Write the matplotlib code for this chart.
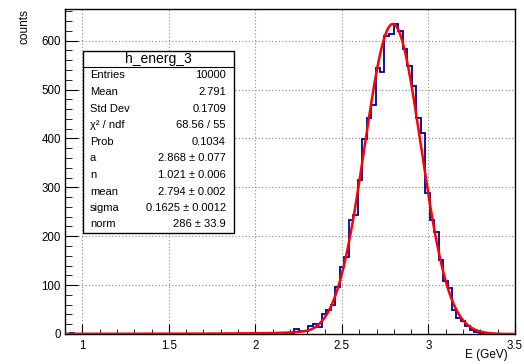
import numpy as np
import matplotlib
matplotlib.use("Agg")
import matplotlib.pyplot as plt
from matplotlib.patches import Rectangle

plt.rcParams['font.family'] = ['Liberation Sans', 'DejaVu Sans']

# histogram h_energ_3 : 100 bins from 0.9 to 3.5 GeV
x_lo, x_hi, n_bins = 0.9, 3.5, 100
counts = [0] * n_bins
tail_low = {1: 2, 42: 1, 43: 1, 46: 2, 47: 3, 48: 2, 49: 3, 50: 3}
peak_bins = [10, 7, 7, 16, 21, 15, 40, 50, 60, 96,            # 51-60
             138, 158, 234, 243, 314, 398, 441, 468, 543, 536,  # 61-70
             610, 613, 633, 619, 582, 549, 507, 442, 411, 289,  # 71-80
             234, 208, 151, 108, 94, 50, 33, 26, 17, 9,         # 81-90
             4, 2, 1]                                           # 91-93
for k, v in tail_low.items():
    counts[k] = v
for i, v in enumerate(peak_bins):
    counts[51 + i] = v

# fit parameters from the stat box (crystal ball), peak height
cb_a, cb_n, cb_mean, cb_sigma = 2.868, 1.021, 2.794, 0.1625
fit_peak = 634

stat_names = ["Entries", "Mean", "Std Dev", "χ² / ndf", "Prob",
              "a", "n", "mean", "sigma", "norm"]
stat_values = ["10000", "2.791", "0.1709", "68.56 / 55", "0.1034",
               "2.868 ± 0.077", "1.021 ± 0.006", "2.794 ± 0.002",
               "0.1625 ± 0.0012", "286 ± 33.9"]


def crystal_ball(x, a, n, mu, sig):
    t = (x - mu) / sig
    A = (n / abs(a)) ** n * np.exp(-a * a / 2)
    B = n / abs(a) - abs(a)
    out = np.exp(-t * t / 2)
    tail = t <= -a
    out[tail] = A * (B - t[tail]) ** (-n)
    return out


W, H = 524, 364
fig = plt.figure(figsize=(W / 100, H / 100), dpi=100)
ax = fig.add_axes([65 / W, 1 - 334 / H, 450 / W, 325 / H])

edges = np.linspace(x_lo, x_hi, n_bins + 1)
ax.stairs(counts, edges, color='#000099', lw=1.3, zorder=3)

xf = np.linspace(x_lo, x_hi, 1000)
ax.plot(xf, fit_peak * crystal_ball(xf, cb_a, cb_n, cb_mean, cb_sigma),
        color='red', lw=1.8, zorder=4)

ax.set_xlim(x_lo, x_hi)
ax.set_ylim(0, 1.05 * max(counts))
ax.set_xticks([1, 1.5, 2, 2.5, 3, 3.5])
ax.set_xticklabels(["1", "1.5", "2", "2.5", "3", "3.5"])
ax.set_xticks(np.arange(0.9, 3.51, 0.1), minor=True)
ax.set_yticks([0, 100, 200, 300, 400, 500, 600])
ax.set_yticks(np.arange(0, 661, 20), minor=True)

ax.grid(True, which='major', color='#888888', linestyle=(0, (1, 2)), lw=0.8)
ax.tick_params(axis='both', which='both', direction='in', top=False, right=False,
               labelsize=8.3, color='black')
ax.tick_params(axis='x', which='major', length=7, pad=4)
ax.tick_params(axis='x', which='minor', length=3.5)
ax.tick_params(axis='y', which='major', length=9.7, pad=3)
ax.tick_params(axis='y', which='minor', length=4.9)
for s in ax.spines.values():
    s.set_linewidth(1.0)

fig.text(25 / W, 1 - 9 / H, "counts", rotation=90, ha='center', va='top', fontsize=8.5)
fig.text(508 / W, 1 - 355 / H, "E (GeV)", ha='right', va='center', fontsize=8.5)

# stat box
bx0, bx1, by0, by1 = 82.7, 234, 51, 232.7
fig.patches.append(Rectangle((bx0 / W, 1 - by1 / H), (bx1 - bx0) / W, (by1 - by0) / H,
                             transform=fig.transFigure, facecolor='white',
                             edgecolor='black', lw=1.0, zorder=5))
fig.add_artist(plt.Line2D([bx0 / W, bx1 / W], [1 - 67.3 / H, 1 - 67.3 / H],
                          transform=fig.transFigure, color='black', lw=0.8, zorder=6))
fig.text((bx0 + bx1) / 2 / W, 1 - 59 / H, "h_energ_3", ha='center', va='center',
         fontsize=10, zorder=7)
row_y = [75, 91.7, 108.5, 125, 141.7, 158.3, 175, 191.7, 208.3, 224.3]
for name, val, yy in zip(stat_names, stat_values, row_y):
    fig.text(90 / W, 1 - yy / H, name, ha='left', va='center', fontsize=8, zorder=7)
    fig.text(226 / W, 1 - yy / H, val, ha='right', va='center', fontsize=8, zorder=7)

fig.savefig("out.png", dpi=100)
